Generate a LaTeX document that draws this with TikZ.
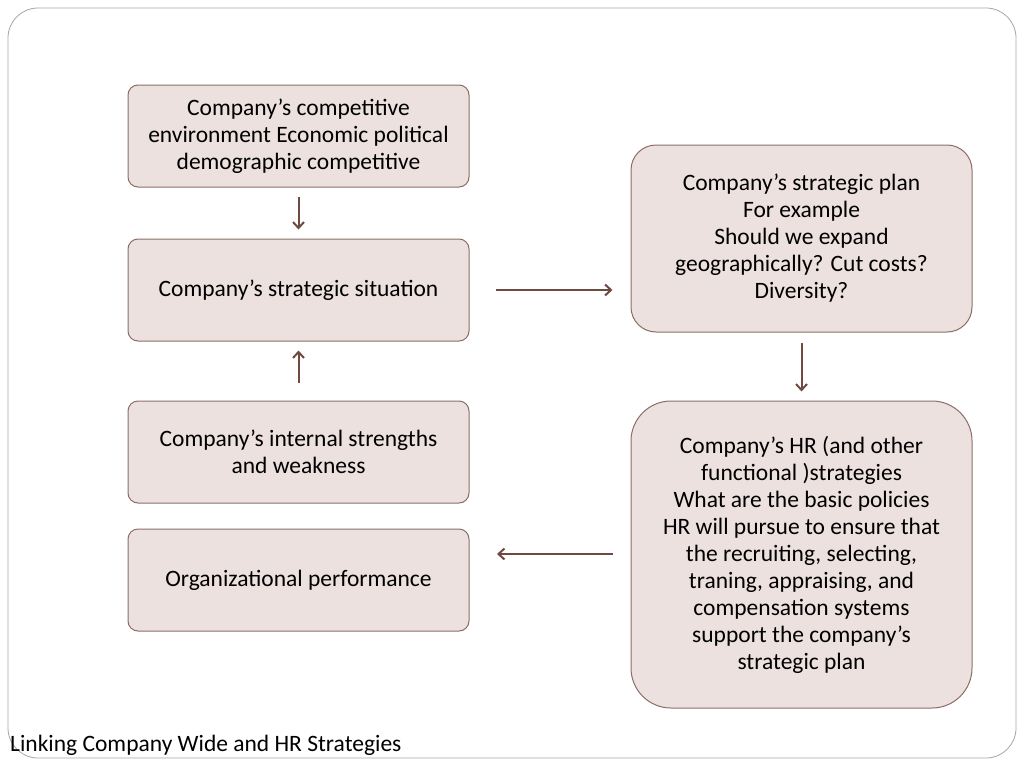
\documentclass[tikz,border=0pt]{standalone}
\usepackage{fontspec}
\setmainfont{Carlito}
\usetikzlibrary{arrows.meta}
\definecolor{boxfill}{HTML}{EDE1DF}
\definecolor{boxline}{HTML}{8A6E66}
\definecolor{arr}{HTML}{6E4A42}
\begin{document}
\begin{tikzpicture}[x=1pt,y=-1pt,
  bx/.style={draw=boxline,fill=boxfill,line width=1pt,rounded corners=10pt,align=center,font=\fontsize{23.5}{27}\selectfont},
  ar/.style={draw=arr,line width=2pt,-{Straight Barb[length=6pt,width=11pt]}}]
\useasboundingbox (0,0) rectangle (1024,768);
\draw[gray!70,line width=0.8pt,rounded corners=30pt] (8,8) rectangle (1016,758);
\node[bx,minimum width=341pt,minimum height=102pt] (a) at (298.5,136) {Company’s competitive\\environment Economic political\\demographic competitive};
\node[bx,minimum width=341pt,minimum height=102pt] (b) at (298.5,290) {Company’s strategic situation};
\node[bx,minimum width=341pt,minimum height=102pt] (c) at (298.5,452) {Company’s internal strengths\\and weakness};
\node[bx,minimum width=341pt,minimum height=102pt] (d) at (298.5,580) {Organizational performance};
\node[bx,rounded corners=25pt,minimum width=341pt,minimum height=187pt] (e) at (801.5,238.5) {Company’s strategic plan\\For example\\Should we expand\\geographically? Cut costs?\\Diversity?};
\node[bx,rounded corners=40pt,minimum width=341pt,minimum height=307pt] (f) at (801.5,554.5) {Company’s HR (and other\\functional )strategies\\What are the basic policies\\HR will pursue to ensure that\\the recruiting, selecting,\\traning, appraising, and\\compensation systems\\support the company’s\\strategic plan};
\draw[ar] ([yshift=-9pt]a.south) -- ([yshift=9pt]b.north);
\draw[ar] ([yshift=18pt]c.north) -- ([yshift=-9pt]b.south);
\draw[ar] ([xshift=26pt]b.east) -- ([xshift=-18pt]e.west|-b.east);
\draw[ar] ([yshift=-10pt]e.south) -- ([yshift=9pt]f.north);
\coordinate (fs) at (613,554);
\coordinate (de) at (497,554);
\draw[ar] (fs) -- (de);
\node[anchor=west,font=\fontsize{23.5}{27}\selectfont,inner sep=0pt] (t) at (10,745) {Linking Company Wide and HR Strategies};
\end{tikzpicture}
\end{document}
